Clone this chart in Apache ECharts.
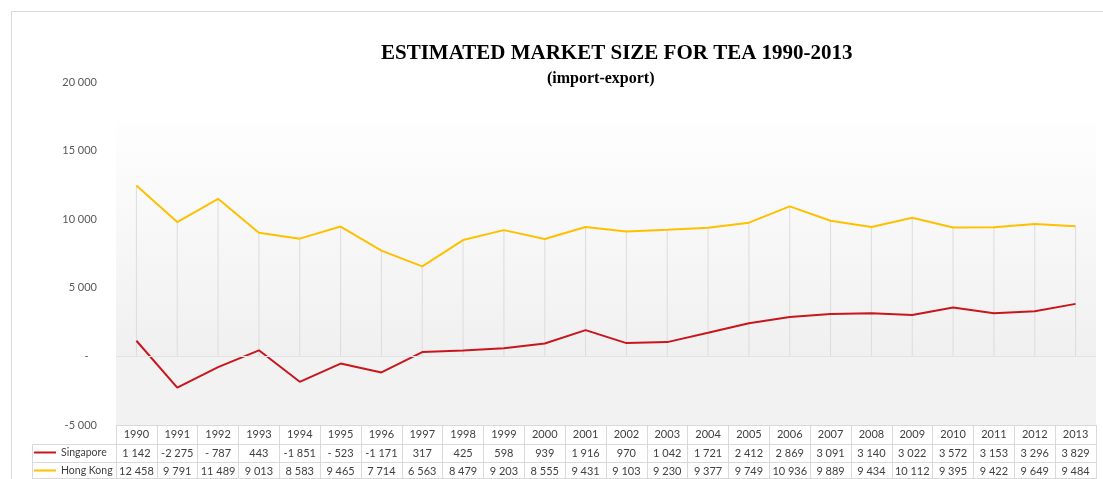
<!DOCTYPE html>
<html>
<head>
<meta charset="utf-8">
<script src="https://cdn.jsdelivr.net/npm/echarts@6/dist/echarts.min.js"></script>
<style>html,body{margin:0;padding:0;background:#fff}#c{width:1103px;height:479px}</style>
</head>
<body>
<div id="c"></div>
<script>
const years = ['1990','1991','1992','1993','1994','1995','1996','1997','1998','1999','2000','2001','2002','2003','2004','2005','2006','2007','2008','2009','2010','2011','2012','2013'];
const singapore = [1142,-2275,-787,443,-1851,-523,-1171,317,425,598,939,1916,970,1042,1721,2412,2869,3091,3140,3022,3572,3153,3296,3829];
const hongKong = [12458,9791,11489,9013,8583,9465,7714,6563,8479,9203,8555,9431,9103,9230,9377,9749,10936,9889,9434,10112,9395,9422,9649,9484];
const yTicks = {min:-5000, max:20000, interval:5000};
const titleText = 'ESTIMATED MARKET SIZE FOR TEA 1990-2013';
const subtitleText = '(import-export)';

function fmt(v){
  const a = Math.abs(v);
  const s = String(a).replace(/\B(?=(\d{3})+(?!\d))/g,' ');
  if (v < 0) return a < 1000 ? '- ' + s : '-' + s;
  return s;
}
const dropTop = years.map((y,i)=>Math.max(singapore[i], hongKong[i]));

const FONT = 'Lato';
const gridCol = '#d9d9d9';
const txt = '#404040';

const chart = echarts.init(document.getElementById('c'));
function tableAxis(offset, len, labelFn, margin){
  return {
    type:'category', data: years, position:'bottom', offset: offset, gridIndex:0,
    boundaryGap:true,
    axisLine:{show:true, onZero:false, lineStyle:{color:gridCol, width:1}},
    axisTick:{show:len>0, length:len, interval:0, lineStyle:{color:gridCol}},
    axisLabel:{show:!!labelFn, interval:0, margin: margin, color: txt, fontFamily: FONT, fontSize: 11,
      formatter: labelFn || (()=> '')}
  };
}
function legendFor(name, top){
  return {data:[name], left:34, top:top, padding:0, icon:'rect', itemWidth:22, itemHeight:2, itemGap:0, selectedMode:false,
    textStyle:{fontFamily:FONT, fontSize:10.5, color:txt}};
}
chart.setOption({
  animation:false,
  backgroundColor:'#ffffff',
  title:[
    {text:titleText, left:376, top:38, textStyle:{fontFamily:'Liberation Serif', fontWeight:'bold', fontSize:21, color:'#000'}},
    {text:subtitleText, left:542, top:66, textStyle:{fontFamily:'Liberation Serif', fontWeight:'bold', fontSize:16, color:'#000'}}
  ],
  legend:[ legendFor('Singapore', 447), legendFor('Hong Kong', 465) ],
  grid:{left:116, right:7, top:82, bottom:54, containLabel:false},
  xAxis:[
    tableAxis(0, 19, (v)=>v, 4),
    tableAxis(19, 18, (v,i)=>fmt(singapore[i]), 4),
    tableAxis(37, 17, (v,i)=>fmt(hongKong[i]), 4),
    tableAxis(53, 0, null, 0)
  ],
  yAxis:{
    type:'value', min:yTicks.min, max:yTicks.max, interval:yTicks.interval,
    axisLine:{show:false}, axisTick:{show:false}, splitLine:{show:false},
    axisLabel:{margin:19, color:'#595959', fontFamily:FONT, fontSize:11,
      formatter:(v)=> v===0 ? '-   ' : fmt(v)}
  },
  graphic:[
    {type:'rect', silent:true, shape:{x:11.5, y:11.5, width:1200, height:600}, style:{fill:'none', stroke:'#d9d9d9', lineWidth:1}},
    {type:'polyline', silent:true, shape:{points:[[116,444.5],[32.5,444.5],[32.5,479]]}, style:{fill:'none', stroke:gridCol, lineWidth:1}},
    {type:'line', silent:true, shape:{x1:32.5, y1:462.5, x2:116, y2:462.5}, style:{stroke:gridCol, lineWidth:1}},
    {type:'line', silent:true, shape:{x1:32.5, y1:478.5, x2:116, y2:478.5}, style:{stroke:gridCol, lineWidth:1}}
  ],
  series:[
    {name:'bg', type:'line', data:hongKong, silent:true, showSymbol:false, z:0,
     lineStyle:{width:0, opacity:0},
     markArea:{silent:true, data:[
       [{yAxis:17000, itemStyle:{color:{type:'linear', x:0, y:0, x2:0, y2:1, colorStops:[{offset:0,color:'#fefefe'},{offset:1,color:'#f0f0f0'}]}}},{yAxis:0}],
       [{yAxis:0, itemStyle:{color:'#f2f2f2'}},{yAxis:-5000}]
     ]},
     markLine:{silent:true, symbol:['none','none'], label:{show:false}, lineStyle:{color:'#e3e3e3', width:1, type:'solid'}, data:[{yAxis:0}]}
    },
    {name:'drop', type:'bar', data:dropTop, barWidth:1, silent:true, z:1, itemStyle:{color:'#dcdcdc'}},
    {name:'Singapore', type:'line', data:singapore, showSymbol:false, z:3, lineStyle:{color:'#C8161D', width:2}, itemStyle:{color:'#C8161D'}},
    {name:'Hong Kong', type:'line', data:hongKong, showSymbol:false, z:3, lineStyle:{color:'#FFC000', width:2}, itemStyle:{color:'#FFC000'}}
  ]
});
</script>
</body>
</html>
